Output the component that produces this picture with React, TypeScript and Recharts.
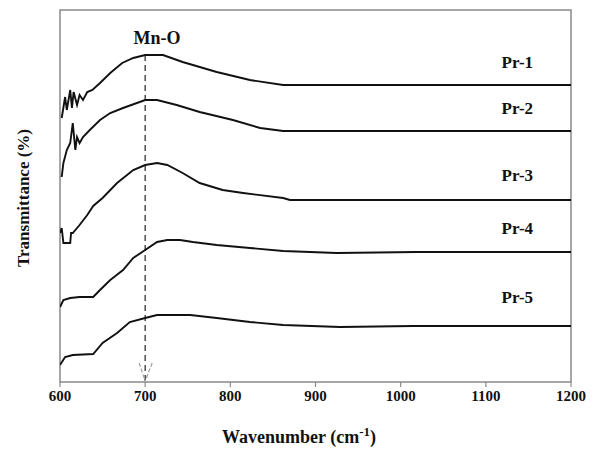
import React from 'react';
import {
  LineChart, Line, XAxis, YAxis, ReferenceLine, ReferenceDot, ReferenceArea, Label
} from 'recharts';

// wavenumber (cm-1) and offset transmittance (a.u.)
const pr1Wn = [602, 606, 608, 612, 614, 616, 620, 623, 627, 632, 638, 647, 659, 673, 686, 700, 721, 744, 784, 823, 862, 1200];
const pr1T = [264, 285, 272, 292, 274, 290, 277, 287, 282, 290, 292, 299, 309, 319, 324, 327, 327, 320, 310, 302, 297, 297];

const pr2Wn = [602, 604, 608, 612, 615, 618, 620, 623, 627, 635, 647, 659, 674, 700, 714, 737, 764, 803, 835, 862, 1200];
const pr2T = [205, 219, 232, 239, 259, 232, 245, 239, 245, 252, 262, 269, 274, 282, 282, 277, 270, 262, 254, 251, 251];

const pr3Wn = [600, 602, 604, 612, 613, 615, 623, 632, 639, 650, 667, 686, 700, 714, 726, 744, 764, 791, 815, 862, 870, 1200];
const pr3T = [149, 154, 139, 139, 149, 149, 157, 167, 176, 184, 199, 212, 217, 219, 217, 209, 199, 192, 189, 184, 182, 182];

const pr4Wn = [600, 604, 612, 623, 639, 647, 659, 674, 686, 700, 714, 726, 741, 756, 784, 823, 862, 925, 1019, 1200];
const pr4T = [75, 82, 84, 85, 85, 92, 102, 112, 124, 132, 140, 142, 142, 140, 137, 134, 131, 129, 130, 130];

const pr5Wn = [600, 606, 615, 639, 650, 667, 682, 700, 714, 737, 753, 784, 823, 862, 929, 1014, 1200];
const pr5T = [17, 25, 27, 28, 39, 49, 60, 64, 67, 67, 67, 64, 60, 57, 55, 56, 56];

const seriesNames = ['Pr-1', 'Pr-2', 'Pr-3', 'Pr-4', 'Pr-5'];
const labelY = [320, 274, 207, 154, 85];
const xTicks = [600, 700, 800, 900, 1000, 1100, 1200];

const toPoints = (wn: number[], t: number[]) => wn.map((w, i) => ({ wn: w, t: t[i] }));
const series = [
  toPoints(pr1Wn, pr1T),
  toPoints(pr2Wn, pr2T),
  toPoints(pr3Wn, pr3T),
  toPoints(pr4Wn, pr4T),
  toPoints(pr5Wn, pr5T),
];

const serif = '"Liberation Serif", "Times New Roman", serif';
const frame = '#8a8a8a';

const ArrowHead = (props: any) => {
  const { cx, cy } = props;
  return (
    <g stroke="#a0a0a0" strokeWidth={1.2} strokeDasharray="4 2" fill="none">
      <line x1={cx - 6} y1={cy - 19} x2={cx} y2={cy - 1} />
      <line x1={cx + 7} y1={cy - 19} x2={cx} y2={cy - 1} />
    </g>
  );
};

const App: React.FC = () => {
  return (
    <div style={{ position: 'absolute', left: 0, top: 0, width: 598, height: 452, background: '#fff' }}>
      <LineChart width={598} height={452} margin={{ top: 10, right: 27, left: 60, bottom: 40 }}>
        <XAxis
          type="number"
          dataKey="wn"
          domain={[600, 1200]}
          ticks={xTicks}
          allowDataOverflow
          height={30}
          axisLine={false}
          tickLine={{ stroke: frame, strokeWidth: 1.2 }}
          tickSize={5}
          tickMargin={3}
          tick={{ fill: '#111', fontSize: 15, fontWeight: 'bold', fontFamily: serif }}
        />
        <YAxis type="number" domain={[0, 372]} width={0} tick={false} tickLine={false} axisLine={false} />

        <ReferenceArea x1={600} x2={1200} y1={0} y2={372} fill="none" fillOpacity={0}
          stroke={frame} strokeWidth={1.5} ifOverflow="visible" />

        <ReferenceLine
          segment={[{ x: 700, y: 327 }, { x: 700, y: 0 }]}
          stroke="#333"
          strokeWidth={1.3}
          strokeDasharray="6 4"
        />
        <ReferenceDot x={700} y={0} r={0} shape={<ArrowHead />} />

        {series.map((d, i) => (
          <Line
            key={seriesNames[i]}
            data={d}
            dataKey="t"
            type="linear"
            stroke="#111"
            strokeWidth={1.9}
            dot={false}
            isAnimationActive={false}
          />
        ))}

        {seriesNames.map((n, i) => (
          <ReferenceDot key={n} x={1137} y={labelY[i]} r={0} stroke="none" fill="none">
            <Label value={n} position="center" fill="#111" fontSize={17} fontWeight="bold" fontFamily={serif} />
          </ReferenceDot>
        ))}
        <ReferenceDot x={714} y={344} r={0} stroke="none" fill="none">
          <Label value="Mn-O" position="center" fill="#111" fontSize={18} fontWeight="bold" fontFamily={serif} />
        </ReferenceDot>
      </LineChart>
      <div style={{ position: 'absolute', left: 24, top: 198, transform: 'translate(-50%, -50%) rotate(-90deg)', whiteSpace: 'nowrap', fontFamily: serif, fontWeight: 'bold', fontSize: 17, color: '#111' }}>
        Transmittance (%)
      </div>
      <div style={{ position: 'absolute', left: 0, top: 424, width: 598, textAlign: 'center', fontFamily: serif, fontWeight: 'bold', fontSize: 18, color: '#111' }}>
        Wavenumber (cm<sup style={{ fontSize: 13 }}>-1</sup>)
      </div>
    </div>
  );
};

export default App;
